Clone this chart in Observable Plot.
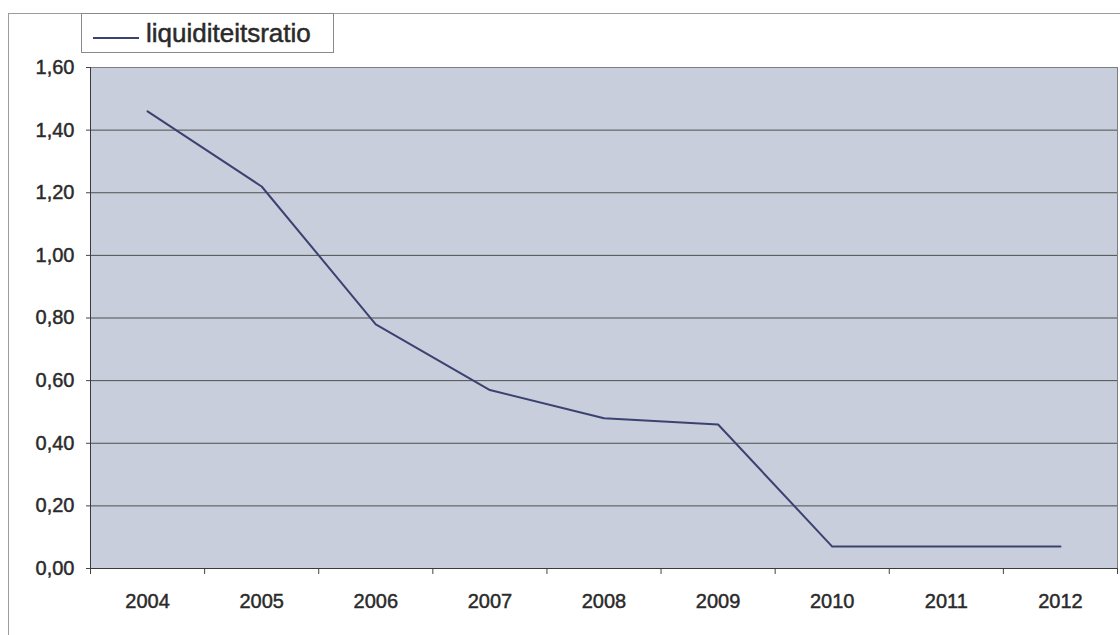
<!DOCTYPE html>
<html>
<head>
<meta charset="utf-8">
<script src="https://cdn.jsdelivr.net/npm/d3@7"></script>
<script src="https://cdn.jsdelivr.net/npm/@observablehq/plot@0.6"></script>
<style>
  html, body { margin: 0; padding: 0; background: #fff; }
  #wrap { position: relative; width: 1120px; height: 635px; overflow: hidden; font-family: "Liberation Sans", Arial, sans-serif; }
  #border { position: absolute; left: 8px; top: 13px; right: -2px; bottom: -2px; border-top: 1px solid #9c9c9c; border-left: 1px solid #9c9c9c; }
  #chart { position: absolute; left: 0; top: 0; }
  #chart svg text { stroke: #2a2a2a; stroke-width: 0.45px; }
  #legend { position: absolute; left: 81px; top: 13px; width: 251px; height: 38px; border: 1px solid #8a8a8a; background: #fff; }
  #legend .swatch { position: absolute; left: 11px; top: 23px; width: 46px; height: 0; border-top: 2px solid #3c4270; }
  #legend .label { position: absolute; left: 64px; top: 5px; font-size: 26px; line-height: 28px; color: #2a2a2a; -webkit-text-stroke: 0.5px #2a2a2a; }
</style>
</head>
<body>
<div id="wrap">
  <div id="border"></div>
  <div id="chart"></div>
  <div id="legend"><span class="swatch"></span><span class="label">liquiditeitsratio</span></div>
</div>
<script>
// Liquiditeitsratio per jaar
const years = [2004, 2005, 2006, 2007, 2008, 2009, 2010, 2011, 2012];
const ratio = [1.46, 1.22, 0.78, 0.57, 0.48, 0.46, 0.07, 0.07, 0.07];
const yTicks = [0, 0.2, 0.4, 0.6, 0.8, 1.0, 1.2, 1.4, 1.6];

const data = years.map((year, i) => ({year, ratio: ratio[i]}));

// category boundaries, one half year either side of each label
const bounds = [years[0] - 0.5, ...years.map(y => y + 0.5)];
const gridTicks = yTicks.slice(1, -1);
const fmt = d => d.toFixed(2).replace(".", ",");

const chart = Plot.plot({
  width: 1120,
  height: 635,
  marginLeft: 90,
  marginRight: 3,
  marginTop: 67,
  marginBottom: 67,
  style: {fontFamily: "'Liberation Sans', Arial, sans-serif", fontSize: "20px", color: "#2a2a2a", background: "transparent"},
  x: {domain: [bounds[0], bounds[bounds.length - 1]]},
  y: {domain: [yTicks[0], yTicks[yTicks.length - 1]]},
  marks: [
    Plot.frame({fill: "#c8cedc", stroke: "#7d7d7d"}),
    Plot.ruleY(gridTicks, {stroke: "#4f4f4f", strokeWidth: 1}),
    Plot.axisY({ticks: yTicks, tickSize: 4, tickPadding: 12, tickFormat: fmt, label: null, stroke: "#444", fontSize: 20}),
    Plot.axisX({ticks: bounds, tickSize: 6, tickFormat: () => "", label: null, stroke: "#444"}),
    Plot.axisX({ticks: years, tickSize: 0, tickPadding: 25, tickFormat: d => String(d), label: null, fontSize: 20}),
    Plot.ruleX([bounds[0]], {stroke: "#3a3a3a"}),
    Plot.ruleY([yTicks[0]], {stroke: "#3a3a3a"}),
    Plot.line(data, {x: "year", y: "ratio", stroke: "#3c4270", strokeWidth: 2})
  ]
});

document.getElementById("chart").appendChild(chart);
</script>
</body>
</html>
